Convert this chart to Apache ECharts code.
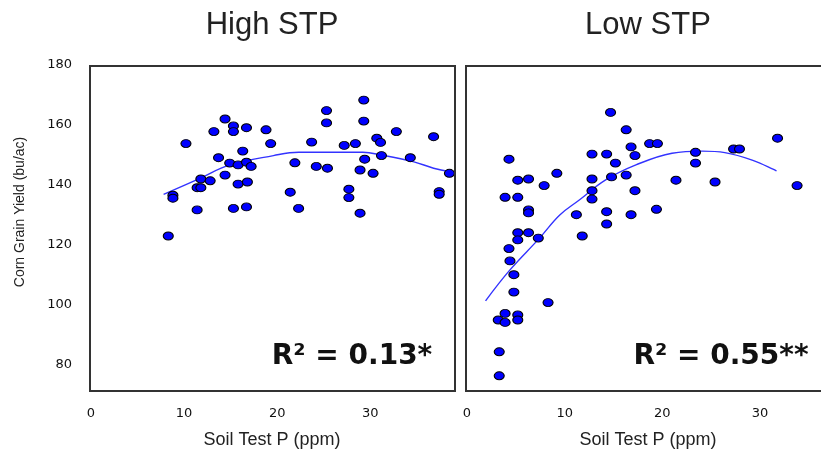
<!DOCTYPE html>
<html>
<head>
<meta charset="utf-8">
<script src="https://cdn.jsdelivr.net/npm/echarts@6/dist/echarts.min.js"></script>
<style>html,body{margin:0;padding:0;background:#fff}#c{width:821px;height:451px}</style>
</head>
<body>
<div id="c"></div>
<script>
const titles = ['High STP', 'Low STP'];
const r2Labels = ['R\u00B2 = 0.13*', 'R\u00B2 = 0.55**'];
const yName = 'Corn Grain Yield (bu/ac)';
const xName = 'Soil Test P (ppm)';

const highPoints = [[10.2,153.8],[14.4,162],[13.2,157.8],[15.3,159.7],[15.3,157.8],[16.7,159.1],[18.8,158.4],[19.3,153.8],[16.3,151.3],[13.7,149.1],[14.9,147.3],[15.8,146.7],[16.7,147.6],[17.2,146.2],[14.4,143.3],[11.8,142],[12.8,141.4],[11.4,139.1],[11.8,139.1],[15.8,140.3],[16.8,141],[8.8,136.6],[8.8,135.6],[11.4,131.7],[15.3,132.2],[16.7,132.7],[21.4,137.6],[21.9,147.4],[22.3,132.2],[23.7,154.3],[24.2,146.2],[25.4,145.6],[25.3,164.8],[25.3,160.7],[27.2,153.2],[28.4,153.8],[29.3,168.3],[29.3,161.3],[27.7,138.6],[27.7,135.8],[28.9,145],[29.4,148.6],[30.3,143.9],[28.9,130.6],[30.7,155.6],[31.1,154.2],[31.2,149.8],[32.8,157.8],[34.3,149.1],[36.8,156.1],[37.4,137.8],[37.4,136.9],[38.5,143.9],[8.3,123]];
const lowPoints = [[14.7,164.2],[16.3,158.4],[16.8,152.7],[17.2,149.8],[18.7,153.8],[19.5,153.8],[12.8,150.3],[14.3,150.3],[15.2,147.3],[4.3,148.6],[9.2,143.9],[5.2,141.6],[6.3,142],[7.9,139.8],[12.8,142],[14.8,142.7],[16.3,143.3],[12.8,138.1],[12.8,135.3],[17.2,138.1],[21.4,141.6],[23.4,150.9],[23.4,147.3],[25.4,141],[27.3,152],[27.9,152],[31.8,155.6],[33.8,139.8],[3.9,135.9],[5.2,135.9],[6.3,131.7],[6.3,130.7],[11.2,130.1],[14.3,131.1],[14.3,127],[16.8,130.1],[19.4,131.9],[11.8,123],[5.2,124.1],[6.3,124.1],[5.2,121.7],[7.3,122.3],[4.3,118.8],[4.4,114.7],[4.8,110.1],[4.8,104.3],[8.3,100.8],[3.9,97.2],[5.2,96.7],[3.2,95],[3.9,94.2],[5.2,95],[3.3,84.4],[3.3,76.4]];
const highFit = [[7.8,136.9],[11.7,142.2],[14.9,146.7],[19.6,149.8],[22.3,150.9],[29.2,150.9],[31.2,150],[34.6,147.8],[36.8,145.6],[38.6,144.4]];
const lowFit = [[1.9,101.4],[4.4,111.7],[7.4,122.2],[9.5,130],[11.5,135],[14.2,141.7],[17.3,146.7],[21.0,150.6],[24.1,151.3],[26.4,150.8],[29.2,148.3],[31.7,144.7]];

const chart = echarts.init(document.getElementById('c'), null, {renderer: 'canvas'});
const tickFont = {fontFamily: 'DejaVu Sans', fontSize: 13, color: '#111'};
function xAxis(idx, max) {
  return {
    type: 'value', gridIndex: idx, min: 0, max: max, interval: 10,
    axisLine: {show: false}, axisTick: {show: false}, splitLine: {show: false},
    axisLabel: Object.assign({margin: 12, showMaxLabel: false, formatter: v => (v % 10 === 0 ? String(v) : '')}, tickFont)
  };
}
function yAxis(idx, show) {
  return {
    type: 'value', gridIndex: idx, min: 70, max: 180, interval: 10,
    axisLine: {show: false}, axisTick: {show: false}, splitLine: {show: false},
    axisLabel: Object.assign({show: show, margin: 19, formatter: v => (v % 20 === 0 ? String(v) : '')}, tickFont)
  };
}
const markerStyle = {color: '#0000ff', borderColor: '#000', borderWidth: 1, opacity: 1};
const fitStyle = {color: '#3333ff', width: 1.4};

chart.setOption({
  animation: false,
  grid: [
    {left: 91, top: 65, width: 364, height: 330},
    {left: 467, top: 65, width: 356, height: 330}
  ],
  xAxis: [xAxis(0, 39.1), xAxis(1, 36.25)],
  yAxis: [yAxis(0, true), yAxis(1, false)],
  series: [
    {type: 'line', xAxisIndex: 0, yAxisIndex: 0, data: highFit, smooth: 0.4, showSymbol: false, lineStyle: fitStyle, z: 1},
    {type: 'line', xAxisIndex: 1, yAxisIndex: 1, data: lowFit, smooth: 0.4, showSymbol: false, lineStyle: fitStyle, z: 1},
    {type: 'scatter', xAxisIndex: 0, yAxisIndex: 0, data: highPoints, symbol: 'circle', symbolSize: [10, 8], itemStyle: markerStyle, z: 3},
    {type: 'scatter', xAxisIndex: 1, yAxisIndex: 1, data: lowPoints, symbol: 'circle', symbolSize: [10, 8], itemStyle: markerStyle, z: 3}
  ],
  graphic: [
    {type: 'rect', shape: {x: 90, y: 66, width: 365, height: 325}, style: {fill: 'none', stroke: '#333', lineWidth: 2}, z: 10},
    {type: 'rect', shape: {x: 466, y: 66, width: 370, height: 325}, style: {fill: 'none', stroke: '#333', lineWidth: 2}, z: 10},
    {type: 'text', x: 272, y: 25, style: {text: titles[0], font: '31px "Liberation Sans"', fill: '#222', textAlign: 'center', textVerticalAlign: 'middle'}},
    {type: 'text', x: 648, y: 25, style: {text: titles[1], font: '31px "Liberation Sans"', fill: '#222', textAlign: 'center', textVerticalAlign: 'middle'}},
    {type: 'text', x: 352, y: 357, style: {text: r2Labels[0], font: 'bold 28px "DejaVu Sans"', fill: '#111', textAlign: 'center', textVerticalAlign: 'middle'}, z: 11},
    {type: 'text', x: 721, y: 357, style: {text: r2Labels[1], font: 'bold 28px "DejaVu Sans"', fill: '#111', textAlign: 'center', textVerticalAlign: 'middle'}, z: 11},
    {type: 'text', x: 272, y: 440, style: {text: xName, font: '18px "Liberation Sans"', fill: '#222', textAlign: 'center', textVerticalAlign: 'middle'}},
    {type: 'text', x: 648, y: 440, style: {text: xName, font: '18px "Liberation Sans"', fill: '#222', textAlign: 'center', textVerticalAlign: 'middle'}},
    {type: 'text', x: 20, y: 212, rotation: Math.PI / 2, style: {text: yName, font: '14px "Liberation Sans"', fill: '#222', textAlign: 'center', textVerticalAlign: 'middle'}}
  ]
});
</script>
</body>
</html>
